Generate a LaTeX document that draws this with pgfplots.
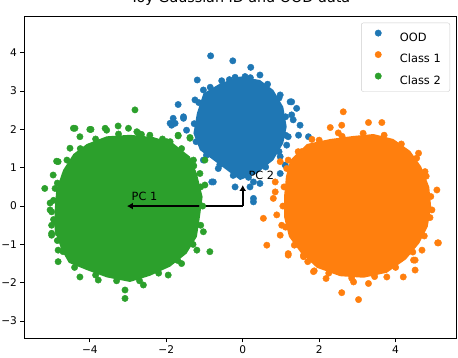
\documentclass[border=0pt]{standalone}
\usepackage{fontspec}
\setmainfont{DejaVu Sans}
\usepackage{pgfplots}
\pgfplotsset{compat=1.18}
\usetikzlibrary{arrows.meta}
\definecolor{tabblue}{RGB}{31,119,180}
\definecolor{taborange}{RGB}{255,127,14}
\definecolor{tabgreen}{RGB}{44,160,44}
\begin{document}
\begin{tikzpicture}
\begin{axis}[
  scale only axis, width=431.5pt, height=322.3pt,
  xmin=-5.71, xmax=5.58, ymin=-3.45, ymax=4.96,
  axis line style={line width=0.9pt},
  tick align=outside, tick pos=left,
  major tick length=4pt, tick style={black, line width=0.9pt},
  xtick={-4,-2,0,2,4}, xticklabels={−4,−2,0,2,4},
  ytick={-3,-2,-1,0,1,2,3,4}, yticklabels={−3,−2,−1,0,1,2,3,4},
  ticklabel style={font=\fontsize{10.6}{12}\selectfont},
  title={Toy Gaussian ID and OOD data},
  title style={font=\fontsize{14.3}{16}\selectfont, at={(0.5,1)}, anchor=base, yshift=7.7pt, inner sep=0pt},
  legend cell align=left,
  legend image code/.code={\path (0pt,0pt); \draw[#1] plot coordinates {(7.7pt,4.2pt)};},
  legend style={at={(1,1)}, anchor=north east, xshift=-6pt, yshift=-6.7pt,
    draw=black!20, rounded corners=2pt, fill=white,
    inner xsep=9pt, inner ysep=7pt, row sep=9.9pt, column sep=18.5pt,
    font=\fontsize{11.4}{13}\selectfont,
    nodes={inner sep=0pt, text height=8.4pt, text depth=0pt}},
  every axis plot/.append style={mark size=3.2pt},
]
% ---- OOD (blue) ----
\addplot[draw=none, fill=tabblue, forget plot] coordinates {
(-1.20,2.42) (-1.03,2.94) (-0.59,3.20) (-0.07,3.38) (0.45,3.29) (0.80,3.03) (1.06,2.59) (1.15,2.07)
(1.06,1.64) (0.80,1.20) (0.37,0.85) (-0.07,0.68) (-0.42,0.94) (-0.77,1.20) (-1.12,1.46) (-1.29,1.90)} -- cycle;
\addplot[only marks, mark=*, color=tabblue] coordinates {
(-0.84,3.92) (-0.26,3.79) (0.21,3.62) (0.45,3.42) (-1.19,3.29) (-1.69,2.65) (-0.55,3.27) (-0.20,3.36)
(0.06,3.38) (0.98,2.90) (1.24,2.72) (-1.03,3.03) (-1.25,2.77) (-1.82,2.29) (-1.55,2.29) (-1.86,2.11)
(-1.47,1.98) (1.28,2.72) (1.41,2.55) (1.32,2.25) (1.19,1.81) (1.15,1.59) (0.98,1.29) (-0.64,0.98)
(-0.77,0.63) (-0.20,0.50) (0.28,0.63) (0.45,0.59) (0.28,0.20) (0.28,0.11) (0.19,0.50) (0.98,0.85)
(1.11,1.07) (1.28,2.38) (1.50,2.11) (1.46,1.85) (1.72,1.81) (-1.77,2.16) (-1.55,2.33) (-0.81,0.63)
(-1.03,1.20) (-1.90,2.16)
(-1.15,2.70) (-0.85,3.10) (-0.35,3.30) (0.20,3.35) (0.65,3.18) (0.95,2.82) (1.12,2.33) (1.12,1.85)
(0.95,1.42) (0.60,1.02) (0.15,0.75) (-0.25,0.80) (-0.60,1.08) (-0.95,1.33) (-1.22,1.68) (-1.27,2.15)};
\addlegendentry{OOD}
% ---- Class 1 (orange) ----
\addplot[draw=none, fill=taborange, forget plot] coordinates {
(1.24,1.20) (1.68,1.62) (2.29,1.75) (2.90,1.83) (3.42,1.88) (3.94,1.75) (4.38,1.44) (4.67,1.03)
(4.88,0.50) (4.93,-0.02) (4.84,-0.54) (4.62,-0.97) (4.27,-1.39) (3.77,-1.74) (3.16,-1.87) (2.55,-1.83)
(1.94,-1.61) (1.52,-1.22) (1.21,-0.80) (1.08,-0.28) (1.08,0.24) (1.13,0.77)} -- cycle;
\addplot[only marks, mark=*, color=taborange] coordinates {
(2.29,2.05) (2.59,2.11) (2.50,1.91) (3.29,2.18) (3.64,2.18) (2.63,2.46) (4.60,1.38) (4.77,0.90)
(5.08,0.42) (4.95,-0.10) (5.10,-0.96) (4.69,-1.15) (4.51,-1.41) (4.20,-1.85) (3.77,-1.85) (3.29,-2.02)
(3.03,-2.44) (2.59,-2.26) (2.90,-1.98) (2.18,-1.89) (1.87,-1.69) (1.59,-1.32) (1.19,-1.24) (0.63,-1.02)
(0.98,-0.76) (1.02,-0.50) (0.54,-0.32) (0.89,-0.23) (0.80,0.20) (0.85,0.37) (0.85,0.63) (0.98,1.16)
(1.19,1.20) (1.54,1.42) (1.81,1.74) (1.19,-1.28) (1.59,-1.28) (1.85,-1.71) (4.51,-1.67) (4.47,-1.41)
(5.12,-0.96)
(1.45,1.42) (2.00,1.72) (2.60,1.82) (3.15,1.90) (3.70,1.85) (4.15,1.62) (4.55,1.25) (4.80,0.78)
(4.92,0.25) (4.90,-0.30) (4.75,-0.78) (4.45,-1.20) (4.00,-1.60) (3.45,-1.84) (2.85,-1.88) (2.25,-1.75)
(1.70,-1.45) (1.35,-1.02) (1.12,-0.55) (1.05,0.00) (1.08,0.50) (1.15,0.98)};
\addlegendentry{Class 1}
% ---- Class 2 (green) ----
\addplot[draw=none, fill=tabgreen, forget plot] coordinates {
(-4.70,0.94) (-4.88,0.42) (-4.92,-0.10) (-4.92,-0.63) (-4.74,-1.15) (-4.55,-1.48) (-4.08,-1.67) (-3.56,-1.86)
(-2.95,-1.98) (-2.43,-1.82) (-1.90,-1.58) (-1.47,-1.24) (-1.20,-0.80) (-1.12,-0.28) (-1.05,0.24) (-1.20,0.85)
(-1.38,1.29) (-1.82,1.64) (-2.34,1.80) (-2.95,1.86) (-3.56,1.82) (-4.08,1.62) (-4.43,1.36)} -- cycle;
\addplot[only marks, mark=*, color=tabgreen] coordinates {
(-4.39,2.03) (-4.00,2.00) (-3.26,2.09) (-4.26,1.81) (-4.52,1.51) (-4.83,1.16) (-4.96,0.81) (-5.18,0.46)
(-4.91,0.46) (-4.87,1.17) (-5.04,0.08) (-5.00,-0.15) (-4.91,-0.41) (-5.00,-0.71) (-4.83,-0.71) (-4.83,-1.15)
(-5.04,-0.10) (-5.00,-0.50) (-5.00,-0.76) (-4.70,-1.19) (-4.83,-1.45) (-4.26,-1.85) (-3.78,-1.93) (-3.08,-2.19)
(-3.08,-2.41) (-2.60,-2.06) (-1.95,-1.80) (-1.60,-1.50) (-1.20,-1.15) (-1.03,-0.67) (-0.86,-1.19) (-0.99,0.55)
(-1.12,0.85) (-0.99,1.20) (-1.38,1.77) (-1.69,1.85) (-1.90,1.68) (-2.43,1.85) (-2.77,1.94) (-2.99,2.03)
(-2.82,2.51) (-3.60,2.03) (-1.69,1.83) (-1.38,1.79) (-1.29,1.20) (-4.43,2.03) (-3.97,2.00) (-3.56,1.98)
(-2.73,1.90) (-1.99,1.68)
(-4.60,1.20) (-4.85,0.60) (-4.95,0.15) (-4.95,-0.35) (-4.85,-0.90) (-4.40,-1.60) (-3.85,-1.80) (-3.30,-1.95)
(-2.70,-1.95) (-2.20,-1.75) (-1.70,-1.42) (-1.30,-1.00) (-1.10,-0.50) (-1.05,0.00) (-1.10,0.50) (-1.28,1.05)
(-1.60,1.50) (-2.10,1.75) (-2.65,1.87) (-3.25,1.88) (-3.85,1.75) (-4.25,1.50)};
\addlegendentry{Class 2}
% ---- principal component arrows ----
\addplot[black, line width=2.2pt, -{Latex[length=6pt,width=7pt]}, forget plot] coordinates {(0,0) (-3.03,0)};
\addplot[black, line width=2.2pt, -{Latex[length=6pt,width=7pt]}, forget plot] coordinates {(0,0) (0,0.55)};
\node[anchor=base west, inner sep=0pt, font=\fontsize{11.3}{13}\selectfont] at (axis cs:-2.91,0.154) {PC 1};
\node[anchor=base west, inner sep=0pt, font=\fontsize{11.3}{13}\selectfont] at (axis cs:0.15,0.70) {PC 2};
\end{axis}
\pgfresetboundingbox
\useasboundingbox (-24.5pt,-19.7pt) rectangle (433.5pt,338.3pt);
\end{tikzpicture}
\end{document}
